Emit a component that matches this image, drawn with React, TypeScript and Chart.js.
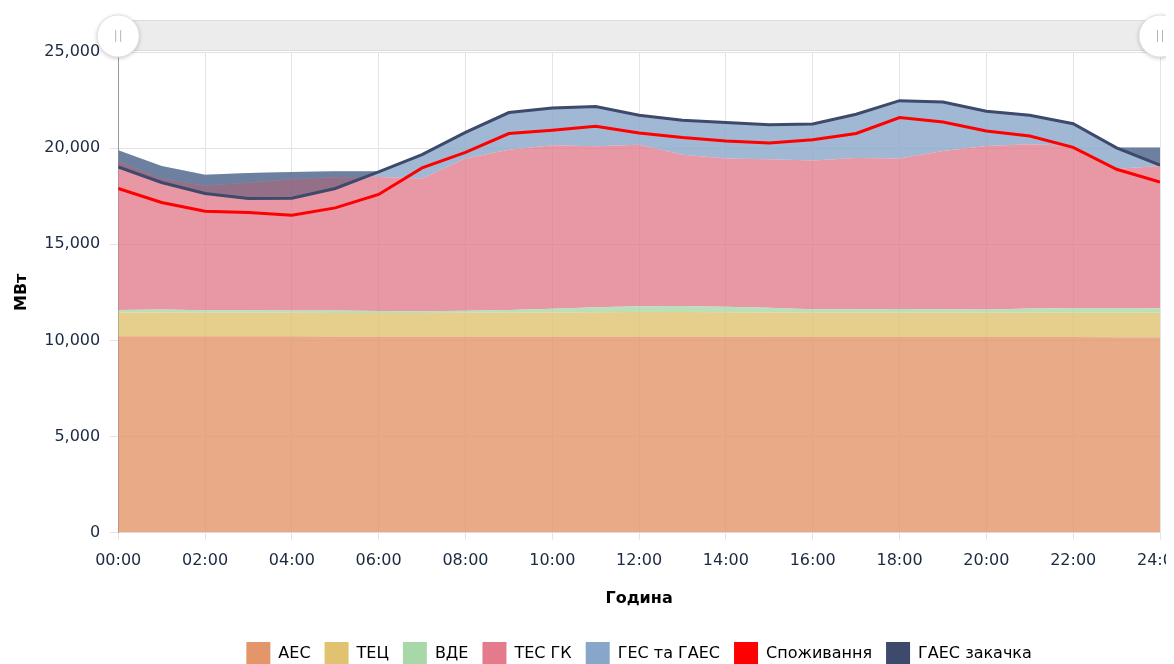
import React, { useEffect, useRef } from "react";
import { Chart, registerables } from "chart.js";

Chart.register(...registerables);

const hours = [0, 1, 2, 3, 4, 5, 6, 7, 8, 9, 10, 11, 12, 13, 14, 15, 16, 17, 18, 19, 20, 21, 22, 23, 24];
const aes = [10220, 10220, 10210, 10210, 10210, 10200, 10200, 10200, 10200, 10200, 10200, 10200, 10200, 10200, 10190, 10190, 10180, 10180, 10180, 10170, 10170, 10170, 10170, 10160, 10160];
const tec = [1230, 1230, 1230, 1220, 1220, 1220, 1220, 1220, 1230, 1240, 1250, 1260, 1270, 1270, 1270, 1260, 1260, 1260, 1260, 1260, 1260, 1270, 1270, 1280, 1280];
const vde = [130, 150, 130, 130, 120, 130, 110, 100, 110, 140, 200, 260, 310, 320, 290, 250, 180, 180, 190, 190, 170, 220, 240, 240, 230];
const tesGk = [7720, 6820, 6470, 6650, 6830, 6940, 6970, 6900, 7920, 8340, 8500, 8380, 8400, 7870, 7710, 7720, 7730, 7870, 7830, 8230, 8510, 8540, 8440, 7250, 7400];
const ges = [590, 650, 580, 500, 380, 310, 300, 1240, 1360, 1930, 1940, 2060, 1530, 1790, 1870, 1800, 1910, 2270, 3010, 2550, 1810, 1510, 1150, 1100, 960];
const consumption = [17900, 17170, 16720, 16650, 16510, 16890, 17590, 18970, 19780, 20760, 20930, 21140, 20790, 20550, 20370, 20270, 20440, 20760, 21590, 21360, 20890, 20630, 20040, 18900, 18240];
const pumping = [19020, 18210, 17640, 17380, 17390, 17900, 18760, 19660, 20820, 21850, 22090, 22160, 21710, 21450, 21330, 21220, 21260, 21760, 22470, 22400, 21920, 21710, 21270, 20010, 19110];

const seriesNames = ["АЕС", "ТЕЦ", "ВДЕ", "ТЕС ГК", "ГЕС та ГАЕС", "Споживання", "ГАЕС закачка"];
const seriesColors = ["#e39669", "#e0c270", "#a8d8a8", "#e47a8c", "#88a6c9", "#ff0000", "#3e4a6b"];
const areaFills = [
  "rgba(227,150,105,0.8)",
  "rgba(224,194,112,0.8)",
  "rgba(168,216,168,0.8)",
  "rgba(226,122,140,0.78)",
  "rgba(136,166,201,0.8)",
];
const pumpFill = "rgba(62,74,107,0.5)";
const yTicks = [0, 5000, 10000, 15000, 20000, 25000];

const FONT = "'DejaVu Sans', Verdana, sans-serif";

const toPts = (vals: number[]) => vals.map((v, i) => ({ x: hours[i], y: v }));
const fmtHour = (h: number) => (h < 10 ? "0" + h : "" + h) + ":00";

const scrollbarPlugin = {
  id: "scrollbar",
  afterDraw(chart: any) {
    const { ctx, chartArea } = chart;
    const top = chartArea.top - 32;
    const h = 30;
    ctx.save();
    ctx.fillStyle = "#ececec";
    ctx.strokeStyle = "#dcdcdc";
    ctx.lineWidth = 1;
    ctx.fillRect(chartArea.left, top, chartArea.right - chartArea.left + 12, h);
    ctx.strokeRect(chartArea.left + 0.5, top + 0.5, chartArea.right - chartArea.left + 12, h);
    const cy = top + h / 2 + 1;
    [chartArea.left, chartArea.right].forEach((cx: number) => {
      ctx.save();
      ctx.shadowColor = "rgba(0,0,0,0.25)";
      ctx.shadowBlur = 4;
      ctx.shadowOffsetY = 1;
      ctx.beginPath();
      ctx.arc(cx, cy, 21, 0, Math.PI * 2);
      ctx.fillStyle = "#ffffff";
      ctx.fill();
      ctx.restore();
      ctx.beginPath();
      ctx.arc(cx, cy, 21, 0, Math.PI * 2);
      ctx.strokeStyle = "#e2e2e2";
      ctx.stroke();
      ctx.strokeStyle = "#b5b5b5";
      ctx.lineWidth = 1;
      ctx.beginPath();
      ctx.moveTo(cx - 2.5, cy - 6);
      ctx.lineTo(cx - 2.5, cy + 6);
      ctx.moveTo(cx + 2.5, cy - 6);
      ctx.lineTo(cx + 2.5, cy + 6);
      ctx.stroke();
    });
    ctx.restore();
  },
};

export default function App() {
  const ref = useRef<HTMLCanvasElement | null>(null);

  useEffect(() => {
    if (!ref.current) return;
    const areaValues = [aes, tec, vde, tesGk, ges];
    const datasets: any[] = areaValues.map((vals, i) => ({
      label: seriesNames[i],
      data: toPts(vals),
      backgroundColor: areaFills[i],
      borderColor: areaFills[i],
      borderWidth: 0,
      pointRadius: 0,
      fill: i === 0 ? "origin" : "-1",
      stack: "gen",
      order: 10,
      tension: 0,
    }));
    datasets.push({
      label: seriesNames[5],
      data: toPts(consumption),
      borderColor: seriesColors[5],
      backgroundColor: seriesColors[5],
      borderWidth: 3,
      pointRadius: 0,
      fill: false,
      stack: "cons",
      order: 0,
      tension: 0,
    });
    datasets.push({
      label: seriesNames[6],
      data: toPts(pumping),
      borderColor: seriesColors[6],
      backgroundColor: pumpFill,
      borderWidth: 3,
      pointRadius: 0,
      fill: { target: 4, above: pumpFill, below: pumpFill },
      stack: "pump",
      order: 0,
      tension: 0,
    });

    const chart = new Chart(ref.current, {
      type: "line",
      data: { datasets },
      plugins: [scrollbarPlugin],
      options: {
        animation: false,
        responsive: false,
        maintainAspectRatio: false,
        devicePixelRatio: 1,
        layout: { padding: { top: 44, right: 14, left: 0, bottom: -12 } },
        plugins: {
          tooltip: { enabled: false },
          legend: {
            position: "bottom",
            fullSize: false,
            labels: {
              font: { family: FONT, size: 16 },
              color: "#222",
              boxWidth: 24,
              boxHeight: 24,
              padding: 14,
              generateLabels: (chart: any) =>
                chart.data.datasets.map((ds: any, i: number) => ({
                  text: ds.label,
                  fillStyle: seriesColors[i],
                  strokeStyle: seriesColors[i],
                  lineWidth: 0,
                  hidden: !chart.isDatasetVisible(i),
                  datasetIndex: i,
                })),
            },
          },
        },
        scales: {
          x: {
            type: "linear",
            min: 0,
            max: 24,
            afterFit: (scale: any) => {
              scale.paddingRight = 0;
            },
            ticks: {
              stepSize: 2,
              autoSkip: false,
              maxRotation: 0,
              padding: 12,
              font: { family: FONT, size: 16 },
              color: "#1a2a40",
              callback: (v: any) => fmtHour(Number(v)),
            },
            grid: { color: "#e3e3e3", tickLength: 7 },
            border: { display: false },
            title: {
              display: true,
              text: "Година",
              font: { family: FONT, size: 16, weight: "bold" },
              color: "#000",
              padding: { top: 6, bottom: 20 },
            },
          },
          y: {
            stacked: true,
            min: 0,
            max: 25000,
            afterBuildTicks: (scale: any) => {
              scale.ticks = yTicks.map((v) => ({ value: v }));
            },
            ticks: {
              padding: 10,
              font: { family: FONT, size: 16 },
              color: "#1a2a40",
              callback: (v: any) => Number(v).toLocaleString("en-US"),
            },
            grid: { color: "#e3e3e3", tickLength: 8 },
            border: { display: true, color: "#9a9a9a" },
            title: {
              display: true,
              text: "МВт",
              font: { family: FONT, size: 16, weight: "bold" },
              color: "#000",
              padding: { top: 4, bottom: 3 },
            },
          },
        },
      },
    });
    return () => chart.destroy();
  }, []);

  return (
    <canvas ref={ref} width={1166} height={656} style={{ display: "block", width: 1166, height: 656 }} />
  );
}
